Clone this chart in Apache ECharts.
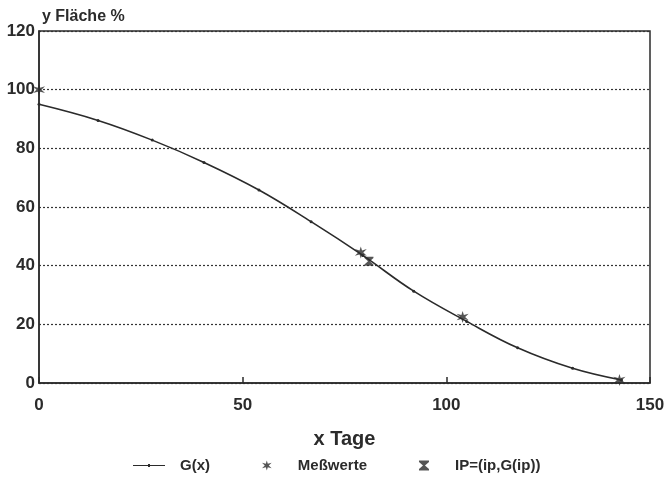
<!DOCTYPE html>
<html>
<head>
<meta charset="utf-8">
<script src="https://cdn.jsdelivr.net/npm/echarts@6/dist/echarts.min.js"></script>
<style>
  html, body { margin: 0; padding: 0; background: #fff; }
  #chart { width: 668px; height: 487px; }
</style>
</head>
<body>
<div id="chart"></div>
<script>
// G(x) Stützstellen (x Tage, y Fläche %)
const curveX = [0, 14.5, 27.8, 40.5, 54, 66.8, 79.5, 92, 105, 117.5, 131, 143]
const curveY = [95, 89.5, 82.8, 75.2, 65.8, 55, 43.5, 31.3, 21, 12, 5, 1]
// Meßwerte
const measX = [0, 79, 104, 142.5]
const measY = [100, 44.5, 22.5, 1]
// Wendepunkt
const ipX = [81]
const ipY = [41.5]

const starPath = 'path://M5,0 L6,3.3 L9.8,2.2 L7,5 L9.8,7.8 L6,6.7 L5,10 L4,6.7 L0.2,7.8 L3,5 L0.2,2.2 L4,3.3 Z'
const hourglassPath = 'path://M0,0 L10,0 L10,1.5 L6,5 L10,8.5 L10,10 L0,10 L0,8.5 L4,5 L0,1.5 Z'
// Legendensymbol für G(x): dünne Linie mit kleinem Punkt
const lineIcon = 'path://M0,0 L0.01,0 L0.01,0.01 Z M0,10 L0.01,10 L0.01,9.99 Z M0,4.4 L32,4.4 L32,5.6 L0,5.6 Z M15,3.6 L17,3.6 L17,6.4 L15,6.4 Z'
const ink = '#2b2b2b'
const font = 'Liberation Sans, Arial, sans-serif'

const zip = (xs, ys) => xs.map((x, i) => [x, ys[i]])

const chart = echarts.init(document.getElementById('chart'))
chart.setOption({
  animation: false,
  grid: {
    left: 39,
    right: 18,
    top: 31,
    bottom: 104,
    show: true,
    borderColor: ink,
    borderWidth: 1.5
  },
  legend: {
    bottom: 9,
    left: 128,
    itemGap: 52,
    itemWidth: 32,
    itemHeight: 10,
    textStyle: { color: ink, fontSize: 15, fontWeight: 'bold', fontFamily: font, padding: [0, 0, 0, 10] },
    data: [
      { name: 'G(x)', icon: lineIcon },
      { name: 'Meßwerte', icon: starPath },
      { name: 'IP=(ip,G(ip))', icon: hourglassPath }
    ]
  },
  xAxis: {
    type: 'value',
    min: 0,
    max: 150,
    interval: 50,
    name: 'x Tage',
    nameLocation: 'middle',
    nameGap: 46,
    nameTextStyle: { color: ink, fontSize: 20, fontWeight: 'bold', fontFamily: font },
    axisLine: { lineStyle: { color: ink, width: 1.5 } },
    axisTick: { inside: true, length: 6, lineStyle: { color: ink, width: 1.5 } },
    axisLabel: { color: ink, fontSize: 17, fontWeight: 'bold', fontFamily: font, margin: 14 },
    splitLine: { show: false }
  },
  yAxis: {
    type: 'value',
    min: 0,
    max: 120,
    interval: 20,
    name: 'y Fläche %',
    nameLocation: 'end',
    nameGap: 6,
    nameTextStyle: { color: ink, fontSize: 16, fontWeight: 'bold', fontFamily: font, align: 'left', padding: [0, 0, 0, 3] },
    axisLine: { lineStyle: { color: ink, width: 1.5 } },
    axisTick: { show: false },
    axisLabel: { color: ink, fontSize: 17, fontWeight: 'bold', fontFamily: font, margin: 4 },
    splitLine: { lineStyle: { color: '#333', type: [2, 2], width: 1.2 } }
  },
  series: [
    {
      name: 'G(x)',
      type: 'line',
      smooth: 0.4,
      data: zip(curveX, curveY),
      symbol: 'circle',
      symbolSize: 3,
      lineStyle: { color: ink, width: 1.6 },
      itemStyle: { color: ink }
    },
    {
      name: 'Meßwerte',
      type: 'scatter',
      data: zip(measX, measY),
      symbol: starPath,
      symbolSize: 12,
      itemStyle: { color: ink }
    },
    {
      name: 'IP=(ip,G(ip))',
      type: 'scatter',
      data: zip(ipX, ipY),
      symbol: hourglassPath,
      symbolSize: 9,
      itemStyle: { color: ink }
    }
  ]
})
</script>
</body>
</html>
